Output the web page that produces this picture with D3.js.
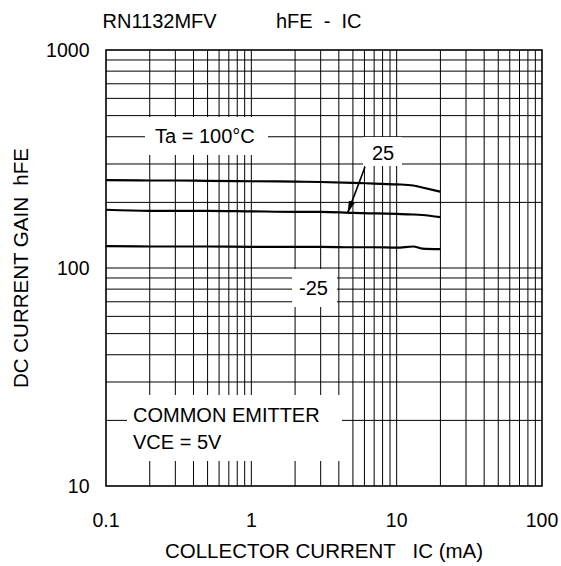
<!DOCTYPE html>
<html>
<head>
<meta charset="utf-8">
<script src="https://cdn.jsdelivr.net/npm/d3@7"></script>
<style>
  html, body { margin: 0; padding: 0; background: #fff; }
  svg text { font-family: "Liberation Sans", Arial, Helvetica, sans-serif; fill: #000; white-space: pre; }
</style>
</head>
<body>
<svg id="chart" width="561" height="566"></svg>
<script>
// Collector current (mA) sample points
const icValues = [0.1, 0.2, 0.3, 0.5, 1, 2, 3, 5, 7, 10, 13, 15, 20];
// DC current gain hFE at each ambient temperature
const hfeTa100 = [253, 252, 252, 251, 250, 249, 248, 246, 244, 242, 239, 234, 224];
const hfeTa25 = [185, 183, 183, 183, 182, 181, 181, 179, 178, 177, 176, 175, 171];
const hfeTaM25 = [126, 125.5, 125.5, 125.5, 125, 125, 125, 124.5, 124.5, 124, 125.5, 122.8, 122];
// Axis tick labels
const xTickLabels = [0.1, 1, 10, 100];
const yTickLabels = [10, 100, 1000];

const svg = d3.select("#chart");
const plotLeft = 106, plotRight = 542, plotTop = 50, plotBottom = 486;

const x = d3.scaleLog().domain([0.1, 100]).range([plotLeft, plotRight]);
const y = d3.scaleLog().domain([10, 1000]).range([plotBottom, plotTop]);

// Grid: every 1..9 step of each decade
const xGrid = x.ticks(30).filter(v => v > 0.1 && v < 100);
const yGrid = y.ticks(30).filter(v => v > 10 && v < 1000);

const grid = svg.append("g");
grid.selectAll("line.v").data(xGrid).join("line")
  .attr("class", "v")
  .attr("x1", d => x(d)).attr("x2", d => x(d))
  .attr("y1", plotTop).attr("y2", plotBottom)
  .attr("stroke", "#000").attr("stroke-width", 1);
grid.selectAll("line.h").data(yGrid).join("line")
  .attr("class", "h")
  .attr("y1", d => y(d)).attr("y2", d => y(d))
  .attr("x1", plotLeft).attr("x2", plotRight)
  .attr("stroke", "#000").attr("stroke-width", 1);

// White panels behind the annotations
const panels = [
  [145, 117, 123, 38],   // Ta = 100°C
  [363, 137, 39, 29],    // 25
  [292, 269, 45, 38],    // -25
  [127, 395, 215, 66]    // COMMON EMITTER
];
svg.append("g").selectAll("rect").data(panels).join("rect")
  .attr("x", d => d[0]).attr("y", d => d[1])
  .attr("width", d => d[2]).attr("height", d => d[3])
  .attr("fill", "#fff");

// Plot border
svg.append("rect")
  .attr("x", plotLeft).attr("y", plotTop)
  .attr("width", plotRight - plotLeft).attr("height", plotBottom - plotTop)
  .attr("fill", "none").attr("stroke", "#000").attr("stroke-width", 1.6);

// Curves
const line = d3.line().x((d, i) => x(icValues[i])).y(d => y(d)).curve(d3.curveMonotoneX);
[hfeTa100, hfeTa25, hfeTaM25].forEach(series => {
  svg.append("path").datum(series)
    .attr("d", line)
    .attr("fill", "none").attr("stroke", "#000")
    .attr("stroke-width", 2.2).attr("stroke-linejoin", "round");
});

// Arrow pointing at the 25°C curve
svg.append("defs").append("marker")
  .attr("id", "arrowhead").attr("viewBox", "0 0 12 10")
  .attr("refX", 12).attr("refY", 5)
  .attr("markerWidth", 12).attr("markerHeight", 10)
  .attr("markerUnits", "userSpaceOnUse")
  .attr("orient", "auto")
  .append("path").attr("d", "M0,1.8 L12,5 L0,8.2 Z").attr("fill", "#000");
svg.append("line")
  .attr("x1", 365).attr("y1", 167)
  .attr("x2", x(4.6)).attr("y2", y(180) + 0.5)
  .attr("stroke", "#000").attr("stroke-width", 1.6)
  .attr("marker-end", "url(#arrowhead)");

// Annotation text
const ann = svg.append("g").attr("font-size", 20);
ann.append("text").attr("x", 155).attr("y", 143).text("Ta = 100°C");
ann.append("text").attr("x", 383).attr("y", 160).attr("text-anchor", "middle").text("25");
ann.append("text").attr("x", 313.5).attr("y", 295).attr("text-anchor", "middle").text("-25");
ann.append("text").attr("x", 133).attr("y", 422).text("COMMON EMITTER");
ann.append("text").attr("x", 133).attr("y", 448.5).text("VCE = 5V");

// Tick labels
svg.append("g").selectAll("text").data(xTickLabels).join("text")
  .attr("x", d => x(d)).attr("y", 527)
  .attr("text-anchor", "middle").attr("font-size", 19.5)
  .text(d => d3.format("~g")(d));
svg.append("g").selectAll("text").data(yTickLabels).join("text")
  .attr("x", 89.5).attr("y", d => y(d) + 6.8)
  .attr("text-anchor", "end").attr("font-size", 19.5)
  .text(d => d3.format("~g")(d));

// Title
const title = svg.append("g").attr("font-size", 20);
title.append("text").attr("x", 102.5).attr("y", 28.3).text("RN1132MFV");
title.append("text").attr("x", 276).attr("y", 28.3).text("hFE  -  IC");

// Axis titles
svg.append("text")
  .attr("x", (plotLeft + plotRight) / 2).attr("y", 558)
  .attr("text-anchor", "middle").attr("font-size", 20.5)
  .text("COLLECTOR CURRENT   IC (mA)");
svg.append("text")
  .attr("transform", `translate(28.3,${(plotTop + plotBottom) / 2}) rotate(-90)`)
  .attr("text-anchor", "middle").attr("font-size", 20.5)
  .text("DC CURRENT GAIN  hFE");
</script>
</body>
</html>
